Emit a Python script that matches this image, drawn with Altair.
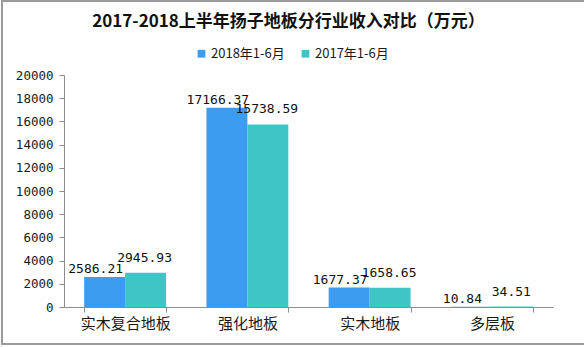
import altair as alt
import pandas as pd

# 分类与两个报告期的收入（万元）
categories = ["实木复合地板", "强化地板", "实木地板", "多层板"]
series = ["2018年1-6月", "2017年1-6月"]
revenue_2018 = [2586.21, 17166.37, 1677.37, 10.84]
revenue_2017 = [2945.93, 15738.59, 1658.65, 34.51]
y_ticks = list(range(0, 20001, 2000))
colors = ["#3c9cf0", "#3ec5c5"]

rows = []
for cat, a, b in zip(categories, revenue_2018, revenue_2017):
    rows.append({"类别": cat, "系列": series[0], "收入": a})
    rows.append({"类别": cat, "系列": series[1], "收入": b})
df = pd.DataFrame(rows)

CJK = "Noto Sans CJK SC"
MONO = "DejaVu Sans Mono"

base = alt.Chart(df).encode(
    x=alt.X(
        "类别:N",
        sort=categories,
        scale=alt.Scale(paddingInner=0.33, paddingOuter=0.165),
        axis=alt.Axis(
            title=None, labelAngle=0, tickBand="extent", tickSize=5,
            labelFont=CJK, labelFontSize=15, labelColor="#1a1a1a", labelPadding=4,
        ),
    ),
    xOffset=alt.XOffset("系列:N", sort=series),
    y=alt.Y(
        "收入:Q",
        scale=alt.Scale(domain=[0, 20000], nice=False),
        axis=alt.Axis(
            title=None, values=y_ticks, format="d", grid=False, tickSize=5,
            labelFont=MONO, labelFontSize=12.5, labelColor="#1a1a1a", labelPadding=6,
        ),
    ),
)

bars = base.mark_bar().encode(
    color=alt.Color(
        "系列:N",
        sort=series,
        scale=alt.Scale(domain=series, range=colors),
        legend=alt.Legend(
            title=None, orient="none", direction="horizontal",
            legendX=131, legendY=-28, symbolType="square", symbolSize=60,
            symbolStrokeWidth=0, labelFont=CJK, labelFontSize=13,
            labelColor="#1a1a1a", columnPadding=14, labelOffset=3,
        ),
    )
)

labels_2018 = base.transform_filter(alt.datum["系列"] == series[0]).mark_text(
    baseline="bottom", dx=-9, dy=-1, font=MONO, fontSize=13, color="#111"
).encode(text=alt.Text("收入:Q", format=".2f"))

labels_2017 = base.transform_filter(alt.datum["系列"] == series[1]).mark_text(
    baseline="bottom", dx=-1, dy=-8, font=MONO, fontSize=13, color="#111"
).encode(text=alt.Text("收入:Q", format=".2f"))

# 外框
frame = alt.Chart(df).mark_rect(
    fill=None, stroke="#9a9a9a", strokeWidth=1.5
).encode(
    x=alt.value(-62), x2=alt.value(530), y=alt.value(-74), y2=alt.value(269)
)

chart = alt.layer(frame, bars, labels_2018, labels_2017).properties(
    width=489,
    height=232,
    padding={"left": 64, "top": 75, "right": 31, "bottom": 40},
    autosize="none",
    title=alt.TitleParams(
        "2017-2018上半年扬子地板分行业收入对比（万元）",
        anchor="middle", frame="group", dx=-20, dy=35, font=CJK,
        fontSize=17, fontWeight="bold", color="#111",
    ),
    background="white",
).configure_view(stroke=None).configure_axis(
    domainColor="#8c8c8c", tickColor="#8c8c8c", domainWidth=1
)

chart.save("out.html", embed_options={"renderer": "svg", "actions": False})
